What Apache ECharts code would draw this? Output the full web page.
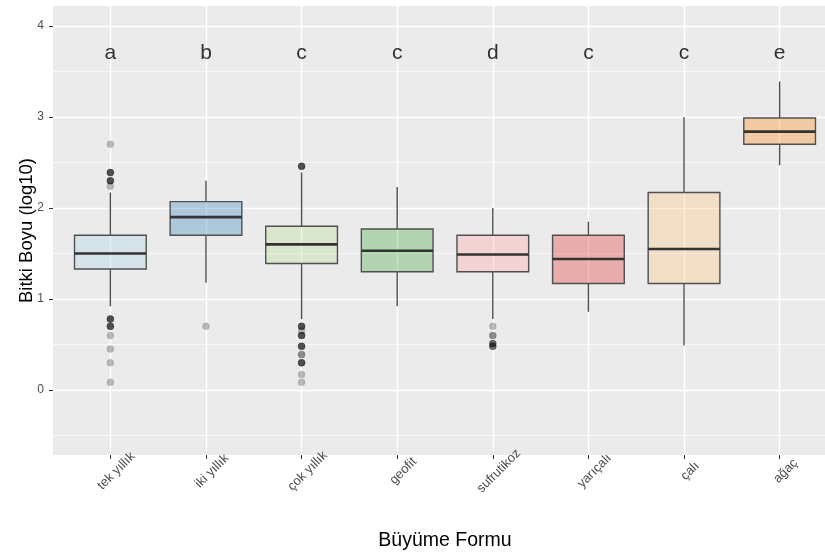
<!DOCTYPE html>
<html>
<head>
<meta charset="utf-8">
<script src="https://cdn.jsdelivr.net/npm/echarts@6/dist/echarts.min.js"></script>
<style>
  html, body { margin: 0; padding: 0; background: #ffffff; overflow: hidden; }
  #chart { width: 825px; height: 553px; }
</style>
</head>
<body>
<div id="chart"></div>
<script>
// ---- data ----
const categories = ['tek yıllık', 'iki yıllık', 'çok yıllık', 'geofit', 'sufrutikoz', 'yarıçalı', 'çalı', 'ağaç'];
const whiskerLow  = [0.92, 1.18, 0.78, 0.92, 0.78, 0.86, 0.49, 2.47];
const q1          = [1.33, 1.70, 1.39, 1.30, 1.30, 1.17, 1.17, 2.70];
const medians     = [1.50, 1.90, 1.60, 1.53, 1.49, 1.44, 1.55, 2.84];
const q3          = [1.70, 2.07, 1.80, 1.77, 1.70, 1.70, 2.17, 2.99];
const whiskerHigh = [2.17, 2.30, 2.39, 2.23, 2.00, 1.85, 3.00, 3.39];
const outliersTek   = [2.70, 2.39, 2.39, 2.39, 2.39, 2.30, 2.30, 2.30, 2.30, 2.24, 0.78, 0.78, 0.78, 0.78, 0.70, 0.70, 0.70, 0.70, 0.60, 0.45, 0.30, 0.085];
const outliersIki   = [0.70];
const outliersCok   = [2.46, 2.46, 2.46, 2.46, 0.70, 0.70, 0.70, 0.70, 0.65, 0.60, 0.60, 0.60, 0.60, 0.48, 0.48, 0.48, 0.48, 0.39, 0.39, 0.30, 0.30, 0.30, 0.30, 0.17, 0.085];
const outliersGeofit = [];
const outliersSufrutikoz = [0.70, 0.60, 0.60, 0.51, 0.51, 0.51, 0.48, 0.48, 0.48];
const outliersYarical = [];
const outliersCali  = [];
const outliersAgac  = [];
const groupLetters = ['a', 'b', 'c', 'c', 'd', 'c', 'c', 'e'];
const letterLevel = 3.70;
const yTickValues = [0, 1, 2, 3, 4];

// ---- styles ----
const fillColors = ['#A6CEE3', '#1F78B4', '#B2DF8A', '#33A02C', '#FB9A99', '#E31A1C', '#FDBF6F', '#FF7F00'];
const FONT = '"Liberation Sans", Arial, sans-serif';

function hexToRgba(hex, a) {
  const n = parseInt(hex.slice(1), 16);
  return 'rgba(' + ((n >> 16) & 255) + ',' + ((n >> 8) & 255) + ',' + (n & 255) + ',' + a + ')';
}

const outlierLists = [outliersTek, outliersIki, outliersCok, outliersGeofit, outliersSufrutikoz, outliersYarical, outliersCali, outliersAgac];
const outlierData = [];
outlierLists.forEach((list, i) => list.forEach(v => outlierData.push([i, v])));

const boxData = categories.map((c, i) => [i, whiskerLow[i], q1[i], medians[i], q3[i], whiskerHigh[i]]);
const letterData = groupLetters.map((l, i) => [i, letterLevel, l]);
const catIndices = categories.map((c, i) => i);

const chart = echarts.init(document.getElementById('chart'), null, { renderer: 'canvas', width: 825, height: 553 });

const option = {
  animation: false,
  backgroundColor: '#ffffff',
  textStyle: { fontFamily: FONT },
  grid: {
    left: 53, top: 6, width: 784, height: 449,
    outerBoundsMode: 'none',
    show: true, backgroundColor: '#EBEBEB', borderWidth: 0, containLabel: false
  },
  xAxis: {
    type: 'value',
    min: -0.6, max: 7.6,
    name: 'Büyüme Formu',
    nameLocation: 'middle',
    nameGap: 76,
    nameMoveOverlap: false,
    nameTextStyle: { fontSize: 19.5, color: '#000000', fontFamily: FONT },
    axisLine: { show: false, onZero: false },
    axisTick: { show: true, length: 4, lineStyle: { color: '#333333', width: 1 }, customValues: catIndices },
    axisLabel: {
      customValues: catIndices,
      formatter: v => categories[Math.round(v)] || '',
      rotate: 45, align: 'center', verticalAlign: 'top', lineHeight: 17,
      margin: 10, fontSize: 13, color: '#4D4D4D', fontFamily: FONT
    },
    splitLine: { show: true, lineStyle: { color: '#FFFFFF', width: 1.4 } },
    minorSplitLine: { show: false }
  },
  yAxis: {
    type: 'value',
    min: -0.714, max: 4.22,
    name: 'Bitki Boyu (log10)',
    nameLocation: 'middle',
    nameGap: 16.5,
    nameMoveOverlap: false,
    nameRotate: 90,
    nameTextStyle: { fontSize: 18.5, color: '#000000', fontFamily: FONT },
    axisLine: { show: false, onZero: false },
    axisTick: { show: true, length: 4, lineStyle: { color: '#333333', width: 1 }, customValues: yTickValues },
    axisLabel: { customValues: yTickValues, margin: 9, fontSize: 12, color: '#4D4D4D', fontFamily: FONT },
    splitLine: { show: true, lineStyle: { color: '#FFFFFF', width: 1.4 } },
    minorTick: { show: false, splitNumber: 2 },
    minorSplitLine: { show: true, lineStyle: { color: '#FFFFFF', width: 0.7 } }
  },
  series: [
    {
      type: 'scatter',
      data: outlierData,
      symbol: 'circle',
      symbolSize: 7,
      itemStyle: { color: 'rgba(0,0,0,0.3)', borderColor: 'rgba(0,0,0,0.15)', borderWidth: 0.6 },
      z: 2
    },
    {
      type: 'custom',
      data: boxData,
      encode: { x: 0, y: [1, 2, 3, 4, 5] },
      z: 3,
      renderItem: function (params, api) {
        const i = api.value(0);
        const pLow = api.coord([i, api.value(1)]);
        const pQ1 = api.coord([i, api.value(2)]);
        const pMed = api.coord([i, api.value(3)]);
        const pQ3 = api.coord([i, api.value(4)]);
        const pHigh = api.coord([i, api.value(5)]);
        const halfW = api.size([0.75, 0])[0] / 2;
        const x = pMed[0];
        const edge = '#505050';
        return {
          type: 'group',
          children: [
            { type: 'line', shape: { x1: x, y1: pHigh[1], x2: x, y2: pQ3[1] }, style: { stroke: edge, lineWidth: 1.4 } },
            { type: 'line', shape: { x1: x, y1: pQ1[1], x2: x, y2: pLow[1] }, style: { stroke: edge, lineWidth: 1.4 } },
            { type: 'rect', shape: { x: x - halfW, y: pQ3[1], width: 2 * halfW, height: pQ1[1] - pQ3[1] },
              style: { fill: hexToRgba(fillColors[params.dataIndex], 0.3), stroke: edge, lineWidth: 1.4 } },
            { type: 'line', shape: { x1: x - halfW, y1: pMed[1], x2: x + halfW, y2: pMed[1] }, style: { stroke: '#333333', lineWidth: 2.6 } }
          ]
        };
      }
    },
    {
      type: 'scatter',
      data: letterData,
      symbolSize: 1,
      itemStyle: { color: 'rgba(0,0,0,0)' },
      label: {
        show: true, position: 'inside',
        formatter: p => p.value[2],
        fontSize: 21, color: '#000000', fontFamily: FONT
      },
      z: 4
    }
  ]
};

chart.setOption(option);
</script>
</body>
</html>
